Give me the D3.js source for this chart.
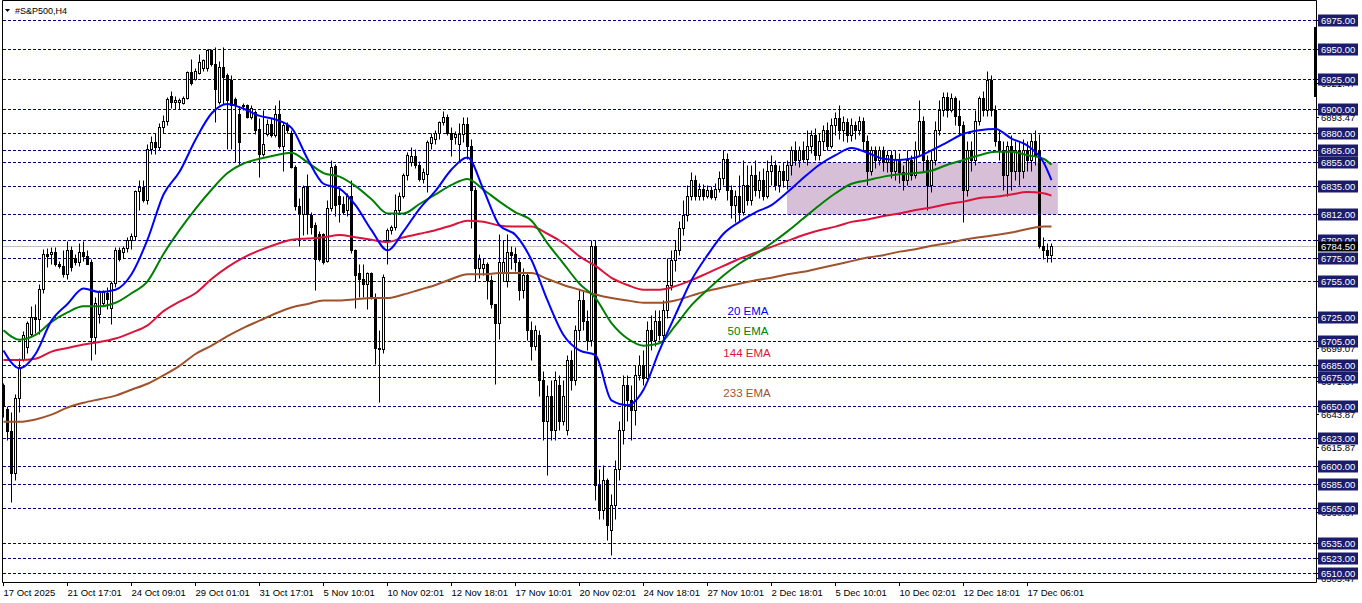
<!DOCTYPE html>
<meta charset="utf-8">
<style>
body {
    margin: 0px;
    background: #fff;
}
svg {
    display: block;
    font-family: "Liberation Sans", Arial, sans-serif;
}
.axis-text {
    font-size: 9.5px;
    fill: #000;
}
.level-text {
    font-size: 9.5px;
    fill: #fff;
}
.ema-label {
    font-size: 11.5px;
    text-anchor: middle;
}
</style>
<body>
<script src="https://d3js.org/d3.v7.min.js"></script>
<script>
var width = 1362,
    height = 603,
    plotLeft = 2,
    plotRight = 1316,
    plotBottom = 582

// H4 candles, oldest first
var open = [6668,6648,6629,6594,6657,6690,6700,6711,6725,6723,6749,6778,6778,6780,6770,6768,6761,6781,6775,6771,
    6780,6776,6771,6708,6728,6737,6745,6733,6754,6781,6780,6783,6790,6793,6831,6834,6823,6866,6872,6868,
    6885,6890,6911,6906,6906,6905,6909,6931,6925,6930,6934,6934,6949,6938,6906,6935,6928,6924,6908,6896,
    6902,6903,6893,6897,6883,6862,6879,6887,6878,6896,6869,6886,6880,6851,6818,6812,6835,6811,6802,6795,
    6795,6772,6817,6852,6827,6820,6815,6827,6781,6762,6757,6753,6762,6742,6699,6698,6790,6798,6801,6815,
    6827,6844,6855,6860,6853,6841,6845,6871,6875,6880,6889,6893,6880,6876,6870,6879,6887,6869,6832,6766,
    6766,6770,6756,6736,6720,6763,6755,6780,6778,6771,6748,6760,6714,6701,6710,6672,6638,6659,
    6630,6668,6638,6630,6689,6672,6714,6739,6722,6706,6785,6584,6563,6588,6546,6567,6597,6630,6668,6655,
    6647,6676,6685,6674,6714,6706,6722,6710,6731,6752,6773,6781,6800,6811,6827,6840,6827,6833,6827,6832,
    6826,6833,6842,6858,6832,6819,6827,6813,6836,6823,6844,6832,6840,6827,6848,6853,6836,6848,6840,6853,
    6865,6857,6865,6858,6869,6878,6861,6873,6882,6869,6886,6892,6882,6889,6878,6886,6882,6890,6873,6848,
    6865,6857,6865,6855,6861,6848,6858,6847,6840,6857,6844,6865,6890,6857,6836,6857,6882,6899,6910,6899,
    6909,6894,6886,6832,6865,6857,6890,6909,6899,6924,6899,6873,6865,6844,6869,6848,6865,6848,6865,6857,
    6873,6865,6785,6781,6777]
var high = [6670,6650,6645,6660,6691,6713,6722,6734,6736,6753,6782,6783,6784,6784,6772,6781,6789,6785,6778,6787,
    6789,6781,6774,6742,6748,6748,6750,6755,6784,6784,6785,6792,6796,6832,6840,6840,6870,6877,6880,6888,
    6895,6910,6915,6911,6909,6911,6932,6942,6934,6946,6942,6950,6950,6952,6940,6952,6930,6928,6910,6902,
    6905,6904,6903,6899,6892,6899,6891,6892,6903,6907,6889,6889,6882,6853,6825,6836,6845,6813,6805,6797,
    6796,6823,6857,6854,6834,6827,6829,6840,6782,6770,6770,6763,6763,6745,6714,6761,6800,6802,6828,6830,
    6846,6864,6868,6866,6856,6850,6874,6880,6882,6890,6898,6896,6885,6881,6888,6893,6893,6875,6834,6778,
    6775,6771,6760,6736,6795,6790,6795,6785,6784,6774,6766,6763,6722,6718,6714,6680,6668,6672,
    6680,6676,6672,6693,6697,6718,6748,6748,6731,6790,6790,6597,6601,6590,6576,6605,6638,6676,6676,6668,
    6685,6693,6697,6722,6727,6731,6731,6739,6775,6781,6790,6806,6823,6836,6847,6844,6838,6837,6836,6835,
    6838,6848,6865,6863,6836,6832,6844,6857,6853,6853,6857,6848,6850,6857,6861,6857,6853,6855,6857,6869,
    6873,6869,6873,6882,6882,6884,6880,6886,6889,6892,6897,6903,6894,6892,6892,6890,6894,6893,6878,6869,
    6869,6869,6869,6865,6865,6865,6863,6853,6865,6861,6873,6907,6894,6861,6865,6890,6907,6914,6914,6913,
    6911,6907,6890,6873,6873,6899,6911,6915,6932,6928,6903,6882,6873,6873,6878,6873,6873,6875,6873,6880,
    6882,6879,6792,6787,6787]
var low = [6641,6622,6570,6588,6645,6688,6695,6708,6712,6711,6745,6767,6770,6768,6766,6759,6757,6764,6769,6768,
    6772,6770,6689,6694,6720,6735,6732,6719,6750,6772,6775,6780,6782,6790,6815,6822,6820,6862,6862,6865,
    6880,6886,6901,6900,6900,6904,6908,6920,6924,6929,6932,6932,6936,6889,6904,6904,6866,6866,6855,6853,
    6899,6892,6891,6879,6843,6860,6877,6876,6876,6867,6848,6880,6850,6815,6785,6794,6795,6795,6748,6772,
    6770,6771,6814,6810,6805,6812,6810,6779,6733,6742,6742,6732,6740,6686,6654,6695,6770,6795,6798,6812,
    6825,6840,6852,6850,6839,6838,6830,6866,6870,6875,6886,6878,6860,6870,6855,6872,6858,6800,6755,6758,
    6760,6740,6733,6669,6707,6755,6750,6765,6764,6739,6741,6706,6689,6697,6659,6622,6592,6622,
    6622,6630,6634,6626,6664,6668,6706,6714,6697,6701,6571,6555,6555,6538,6525,6555,6588,6618,6638,6622,
    6634,6672,6668,6672,6697,6701,6706,6706,6724,6748,6764,6777,6794,6806,6823,6823,6823,6823,6825,6824,
    6823,6830,6836,6823,6808,6805,6806,6811,6819,6819,6827,6825,6823,6825,6836,6832,6830,6834,6833,6844,
    6853,6851,6855,6853,6863,6857,6857,6865,6865,6867,6878,6875,6873,6872,6873,6875,6878,6865,6836,6844,
    6850,6853,6848,6847,6842,6840,6838,6832,6836,6840,6842,6861,6848,6815,6830,6853,6878,6894,6893,6897,
    6886,6878,6805,6827,6848,6853,6886,6894,6894,6894,6869,6857,6832,6827,6832,6840,6836,6842,6848,6848,
    6853,6783,6774,6771,6771]
var close = [6650,6629,6594,6657,6683,6710,6720,6725,6723,6749,6778,6776,6780,6770,6768,6761,6781,6767,6771,6780,
    6776,6770,6708,6737,6746,6746,6740,6754,6781,6774,6783,6790,6793,6831,6834,6823,6866,6872,6868,6885,
    6890,6908,6906,6907,6907,6909,6931,6922,6932,6939,6941,6949,6938,6917,6935,6927,6907,6903,6903,6872,
    6903,6893,6901,6882,6862,6870,6887,6878,6896,6869,6886,6882,6851,6818,6812,6834,6812,6801,6774,6774,
    6771,6817,6851,6819,6820,6813,6827,6781,6760,6757,6753,6762,6742,6699,6698,6759,6798,6801,6815,6827,
    6844,6861,6860,6853,6841,6847,6872,6876,6880,6889,6893,6880,6875,6879,6879,6887,6869,6832,6766,6774,
    6770,6756,6736,6720,6771,6771,6780,6777,6771,6748,6760,6714,6701,6714,6672,6638,6659,6630,
    6672,6638,6659,6689,6672,6714,6739,6722,6706,6785,6584,6563,6588,6550,6567,6597,6630,6668,6655,6647,
    6676,6685,6674,6714,6706,6722,6710,6731,6752,6773,6781,6800,6811,6827,6840,6827,6833,6827,6832,6826,
    6833,6842,6858,6832,6819,6827,6813,6836,6823,6844,6832,6840,6827,6848,6853,6836,6848,6840,6853,6865,
    6857,6865,6858,6869,6878,6861,6873,6882,6869,6886,6892,6882,6889,6878,6886,6882,6890,6873,6848,6865,
    6857,6865,6855,6861,6848,6858,6847,6840,6857,6844,6865,6890,6857,6836,6857,6882,6899,6910,6899,6909,
    6894,6886,6832,6865,6857,6890,6909,6899,6924,6899,6873,6865,6844,6869,6848,6865,6848,6865,6857,6873,
    6861,6785,6781,6777,6784.5]

// moving averages, read every 4th bar
var emaBars = [0,4,8,12,16,20,24,28,32,36,40,44,48,52,56,60,64,68,72,76,80,84,88,92,96,100,104,108,112,116,120,124,128,
    132,136,140,144,148,152,156,160,164,168,172,176,180,184,188,192,196,200,204,208,212,216,220,224,228,232,236,240,244,248,252,256,260,262]
var ema20 = [6697,6682,6694,6722,6736,6749,6746,6748,6761,6790,6828,6847,6874,6896,6904,6900,6894,6891,6884,6858,6837,6833,6819,6798,6781,6797,6816,6831,6849,6859,6832,6802,6794,
    6773,6739,6710,6697,6693,6655,6651,6664,6697,6727,6756,6777,6795,6805,6813,6819,6830,6842,6853,6861,6867,6863,6858,6857,6859,6865,6872,6879,6882,6883,6875,6869,6855,6840]
var ema50 = [6714,6706,6710,6721,6729,6734,6734,6737,6745,6755,6778,6798,6816,6832,6846,6854,6858,6861,6863,6855,6846,6843,6835,6824,6812,6812,6820,6828,6836,6841,6832,6822,6813,
    6806,6787,6770,6753,6741,6720,6707,6701,6703,6718,6735,6748,6760,6770,6778,6787,6797,6808,6819,6829,6837,6840,6843,6845,6846,6848,6853,6857,6861,6864,6864,6861,6858,6853]
var ema144 = [6689,6689,6690,6696,6699,6702,6704,6707,6712,6718,6730,6738,6745,6757,6767,6775,6781,6786,6790,6791,6792,6794,6792,6790,6788,6792,6795,6798,6802,6806,6805,6802,6801,
    6801,6795,6787,6776,6768,6758,6752,6748,6748,6751,6756,6762,6768,6774,6779,6784,6789,6794,6798,6801,6805,6807,6810,6812,6815,6817,6820,6822,6825,6826,6828,6830,6829,6827]
var ema233 = [6637,6637,6639,6643,6649,6653,6656,6659,6664,6669,6676,6684,6694,6701,6709,6716,6722,6728,6733,6736,6739,6739,6740,6741,6741,6744,6748,6752,6757,6761,6761,6762,6762,
    6762,6757,6752,6748,6744,6741,6739,6737,6737,6739,6743,6747,6750,6753,6756,6758,6761,6763,6766,6769,6772,6775,6777,6780,6782,6785,6787,6790,6792,6794,6796,6799,6801,6801]

var emaNames = ["20 EMA", "50 EMA", "144 EMA", "233 EMA"]
var emaColors = ["#0000ff", "#008000", "#dc143c", "#a0522d"]

// horizontal levels drawn on the chart
var levels = [6975,6950,6925,6900,6880,6865,6855,6835,6812,6790,6775,6755,6725,6705,6685,6675,6650,6623,6600,6585,6565,6535,6523,6510]
var scaleLabels = [6921.47,6893.47,6699.07,6671.07,6643.87,6615.87,6560.87,6505.47]
var lastPrice = 6784.50

// shaded zone: from bar, to bar, upper, lower price
var zone = [196, 263.7, 6855, 6812]

var dateLabels = ["17 Oct 2025","21 Oct 17:01","24 Oct 09:01","29 Oct 01:01","31 Oct 17:01","5 Nov 10:01","10 Nov 02:01",
    "12 Nov 18:01","17 Nov 10:01","20 Nov 02:01","24 Nov 18:01","27 Nov 10:01","2 Dec 18:01","5 Dec 10:01",
    "10 Dec 02:01","12 Dec 18:01","17 Dec 06:01"]
var dateEvery = 16

var x = d3.scaleLinear().domain([0, 262]).range([3, 1051])
var y = d3.scaleLinear().domain([6510, 6975]).range([573, 19.5])

function py(v) { return Math.round(y(v)) + 0.5 }

var svg = d3.select("body").append("svg")
    .attr("width", width)
    .attr("height", height)

svg.append("rect")
    .attr("width", width)
    .attr("height", height)
    .attr("fill", "#fff")

// zone
svg.append("rect")
    .attr("x", x(zone[0]))
    .attr("y", py(zone[2]))
    .attr("width", x(zone[1]) - x(zone[0]))
    .attr("height", py(zone[3]) - py(zone[2]))
    .attr("fill", "#d8bfd8")

// level lines
svg.append("g").selectAll("line")
    .data(levels)
    .enter().append("line")
    .attr("x1", plotLeft + 1)
    .attr("x2", plotRight)
    .attr("y1", py)
    .attr("y2", py)
    .attr("stroke", "#000080")
    .attr("stroke-dasharray", "3,2")

// current price line
svg.append("line")
    .attr("x1", plotLeft + 1)
    .attr("x2", plotRight)
    .attr("y1", py(lastPrice))
    .attr("y2", py(lastPrice))
    .attr("stroke", "#c0c0c0")

// candles
var candles = open.map(function(o, i) {
    return { i: i, o: o, h: high[i], l: low[i], c: close[i] }
})

var bar = svg.append("g").selectAll("g")
    .data(candles)
    .enter().append("g")

bar.append("line")
    .attr("x1", function(d) { return x(d.i) + 0.5 })
    .attr("x2", function(d) { return x(d.i) + 0.5 })
    .attr("y1", function(d) { return py(d.h) })
    .attr("y2", function(d) { return py(d.l) })
    .attr("stroke", "#000")

bar.append("rect")
    .attr("x", function(d) { return x(d.i) - 0.5 })
    .attr("y", function(d) { return py(Math.max(d.o, d.c)) })
    .attr("width", 2)
    .attr("height", function(d) { return Math.max(py(Math.min(d.o, d.c)) - py(Math.max(d.o, d.c)), 0.01) })
    .attr("fill", function(d) { return d.c >= d.o ? "#fff" : "#000" })
    .attr("stroke", "#000")

// moving averages
var emaSeries = [ema20, ema50, ema144, ema233]
var line = d3.line()
    .x(function(d) { return x(d[0]) + 0.5 })
    .y(function(d) { return y(d[1]) })
    .curve(d3.curveMonotoneX)

emaSeries.slice().reverse().forEach(function(s, k) {
    var idx = emaSeries.length - 1 - k
    svg.append("path")
        .datum(emaBars.map(function(b, j) { return [b, s[j]] }))
        .attr("d", line)
        .attr("fill", "none")
        .attr("stroke", emaColors[idx])
        .attr("stroke-width", 2)
})

// labels for the averages
var emaLabelPos = [[748, 315], [748, 335], [747, 357], [747, 397]]
svg.append("g").selectAll("text")
    .data(emaNames)
    .enter().append("text")
    .attr("class", "ema-label")
    .attr("x", function(d, i) { return emaLabelPos[i][0] })
    .attr("y", function(d, i) { return emaLabelPos[i][1] })
    .attr("fill", function(d, i) { return emaColors[i] })
    .text(function(d) { return d })

// frame
svg.append("path")
    .attr("d", "M" + (plotLeft + 0.5) + ",0.5V" + (plotBottom + 0.5) + "H" + (plotRight + 0.5) + "V0.5H" + (plotLeft + 0.5) + "Z")
    .attr("fill", "none")
    .attr("stroke", "#000")

svg.append("rect")
    .attr("x", plotRight - 2)
    .attr("y", 27)
    .attr("width", 3)
    .attr("height", 70)
    .attr("fill", "#000")

// title
svg.append("path")
    .attr("d", "M5,9H10L7.5,12Z")
    .attr("fill", "#000")
svg.append("text")
    .attr("class", "axis-text")
    .attr("x", 15)
    .attr("y", 14)
    .style("font-size", "9px")
    .text("#S&P500,H4")

// time axis
var dates = svg.append("g").selectAll("g")
    .data(dateLabels)
    .enter().append("g")
    .attr("transform", function(d, i) { return "translate(" + (x(i * dateEvery) + 0.5) + ",0)" })

dates.append("line")
    .attr("y1", plotBottom)
    .attr("y2", plotBottom + 4)
    .attr("stroke", "#000")

dates.append("text")
    .attr("class", "axis-text")
    .attr("x", 0)
    .attr("y", 596)
    .text(function(d) { return d })

// price scale labels (partly hidden behind the level boxes)
var sl = svg.append("g").selectAll("g")
    .data(scaleLabels)
    .enter().append("g")
    .attr("transform", function(d) { return "translate(0," + py(d) + ")" })

sl.append("line")
    .attr("x1", plotRight)
    .attr("x2", plotRight + 3)
    .attr("stroke", "#000")

sl.append("text")
    .attr("class", "axis-text")
    .attr("x", 1321)
    .attr("y", 3.5)
    .text(function(d) { return d.toFixed(2) })

// level boxes
var lb = svg.append("g").selectAll("g")
    .data(levels)
    .enter().append("g")
    .attr("transform", function(d) { return "translate(0," + py(d) + ")" })

lb.append("line")
    .attr("x1", plotRight)
    .attr("x2", plotRight + 3)
    .attr("stroke", "#000")

lb.append("rect")
    .attr("x", 1318)
    .attr("y", -6)
    .attr("width", 40)
    .attr("height", 12)
    .attr("fill", "#1c1c6c")

lb.append("text")
    .attr("class", "level-text")
    .attr("x", 1321)
    .attr("y", 3.5)
    .text(function(d) { return d.toFixed(2) })

// last price box
var lp = svg.append("g")
    .attr("transform", "translate(0," + py(lastPrice) + ")")
lp.append("rect")
    .attr("x", 1318)
    .attr("y", -5)
    .attr("width", 40)
    .attr("height", 10)
    .attr("fill", "#000")
lp.append("text")
    .attr("class", "level-text")
    .attr("x", 1321)
    .attr("y", 3.5)
    .text(lastPrice.toFixed(2))
</script>
